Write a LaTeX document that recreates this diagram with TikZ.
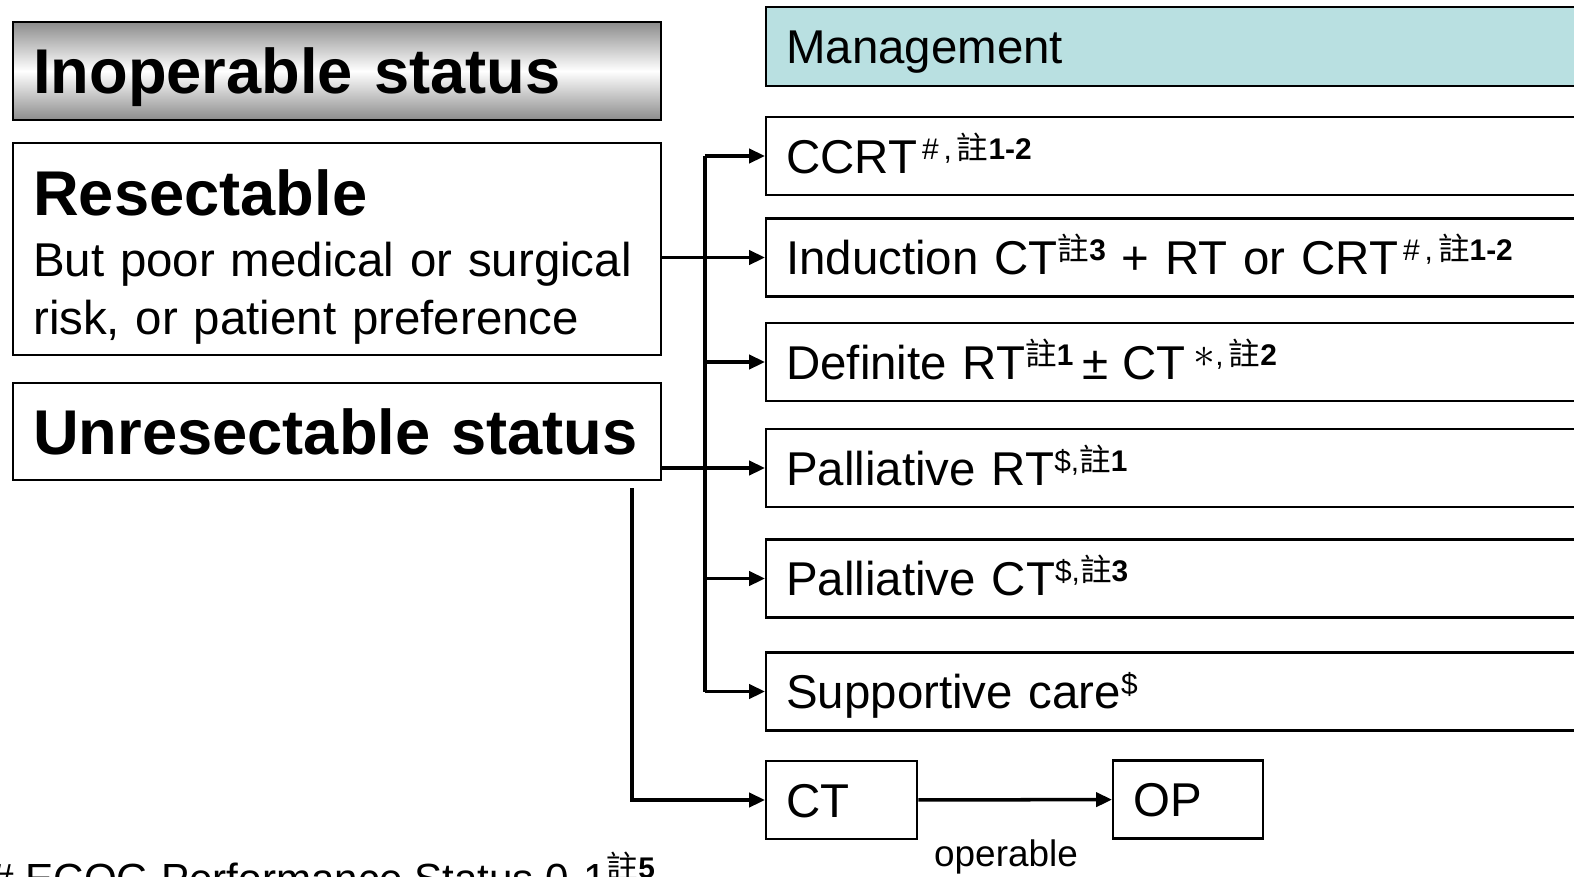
\documentclass[tikz,border=0pt]{standalone}
\usepackage{fontspec}
\setmainfont{Liberation Sans}
\newfontfamily\cjk{Noto Sans CJK TC}
\usetikzlibrary{arrows.meta}

\definecolor{mgmtcyan}{RGB}{185,224,225}

% font sizes
\newcommand{\bigfnt}{\fontsize{36}{40}\selectfont\bfseries}
\newcommand{\midfnt}{\fontsize{27}{33}\selectfont}
% note marks
\newcommand{\zhu}[1]{{\cjk\fontsize{18}{18}\selectfont 註}\textbf{#1}}
\newcommand{\sups}[1]{\raisebox{8pt}{\fontsize{17}{17}\selectfont #1}}

\begin{document}
\begin{tikzpicture}[x=0.02cm, y=-0.02cm,
  box/.style={draw, line width=1.4pt, anchor=west, align=left, inner xsep=0.4cm, inner ysep=0pt},
  leftbox/.style={box, text width=12.16cm, minimum height=1.96cm},
  rightbox/.style={box, text width=16.7cm, minimum height=1.56cm, font=\midfnt, text height=19.5pt, text depth=0pt},
  smallbox/.style={box, text width=2.2cm, minimum height=1.56cm, font=\midfnt, text height=19.5pt, text depth=0pt},
  conn/.style={line width=2pt},
  arr/.style={conn, -{Triangle[length=9pt,width=8pt]}}]
  \useasboundingbox (0,0) rectangle (1574,876);
  \clip (0,0) rectangle (1574,876);

  % left column
  \node[leftbox, font=\bigfnt, text height=26pt, text depth=0pt,
        top color=black!45, bottom color=black!45, middle color=white] (inop) at (12,71) {Inoperable status};
  \node[leftbox, font=\midfnt, minimum height=4.24cm] (res) at (12,249)
    {\rule{0pt}{35pt}{\bigfnt Resectable}\\[2pt]But poor medical or surgical\\risk, or patient preference};
  \node[leftbox, font=\bigfnt, minimum height=1.94cm, text height=26pt, text depth=0pt] (unres) at (12,431.5) {Unresectable status};

  % management column
  \node[rightbox, fill=mgmtcyan, minimum height=1.58cm] (mgmt) at (765,46.5) {Management};
  \node[rightbox] (ccrt) at (765,156) {CCRT\sups{\,\#\,,\,\zhu{1-2}}};
  \node[rightbox] (induct) at (765,257.5) {Induction CT\sups{\zhu{3}} + RT or CRT\sups{\,\#\,,\,\zhu{1-2}}};
  \node[rightbox] (definite) at (765,362) {Definite RT\sups{\zhu{1}}\hspace{5pt}±\hspace{8pt}CT\,\raisebox{6.5pt}{\fontsize{30}{30}\selectfont$\ast$}\sups{,\,\zhu{2}}};
  \node[rightbox] (pallrt) at (765,468) {Palliative RT\sups{\$,\zhu{1}}};
  \node[rightbox] (pallct) at (765,578.5) {Palliative CT\sups{\$,\zhu{3}}};
  \node[rightbox] (supp) at (765,691.5) {Supportive care\sups{\$}};

  % surgery path
  \node[smallbox, text width=2.22cm] (ct) at (765,800) {CT};
  \node[smallbox] (op) at (1112,799.5) {OP};
  \node[anchor=base, font=\fontsize{21}{24}\selectfont] (oplbl) at (1006,866) {operable};

  % footnote
  \node[anchor=base west, font=\fontsize{24}{28}\selectfont, inner sep=0pt] (ecog) at (-10,893)
    {\# ECOG Performance Status 0-1\sups{\zhu{5}}};

  % connectors
  \coordinate (split) at (705,257.5);
  \draw[conn] (split |- ccrt.west) -- (split |- supp.west);
  \foreach \b in {ccrt,definite,pallct,supp}
    \draw[arr] (split |- \b.west) -- (\b.west);
  \draw[arr] (res.east |- induct.west) -- (induct.west);
  \draw[arr] (unres.east |- pallrt.west) -- (pallrt.west);
  \coordinate (drop) at (632,488);
  \draw[arr] (drop) |- (ct.west);
  \draw[arr] (ct) -- (op);
\end{tikzpicture}
\end{document}
